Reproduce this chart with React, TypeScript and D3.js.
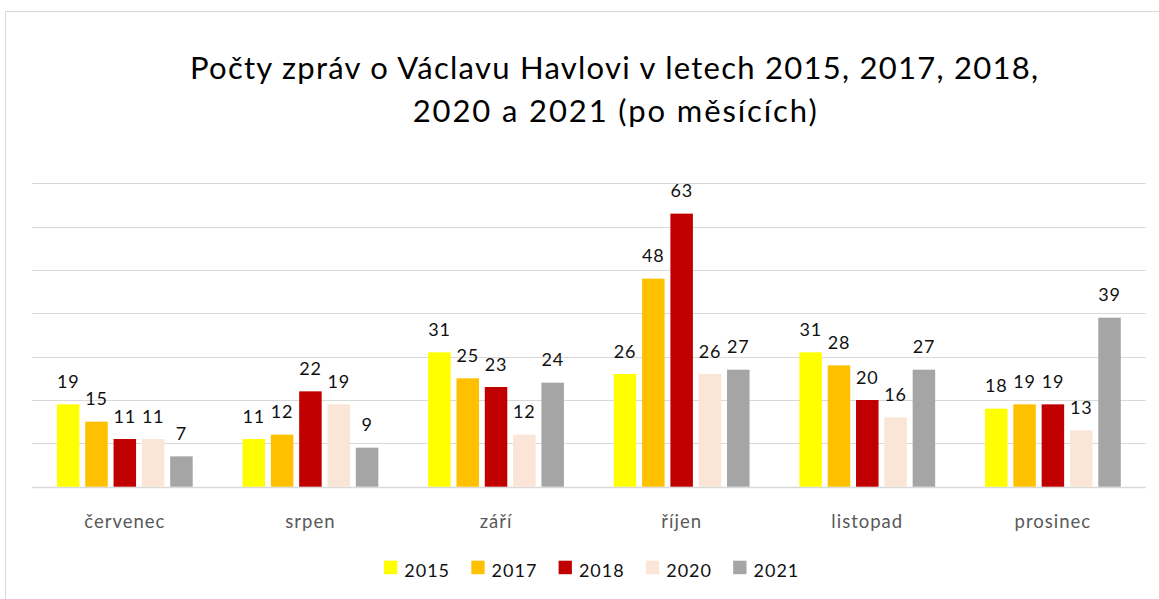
import React from "react";
import * as d3 from "d3";

const categories = ["červenec", "srpen", "září", "říjen", "listopad", "prosinec"];
const years = ["2015", "2017", "2018", "2020", "2021"];
const values2015 = [19, 11, 31, 26, 31, 18];
const values2017 = [15, 12, 25, 48, 28, 19];
const values2018 = [11, 22, 23, 63, 20, 19];
const values2020 = [11, 19, 12, 26, 16, 13];
const values2021 = [7, 9, 24, 27, 27, 39];
const yTicks = [0, 10, 20, 30, 40, 50, 60, 70];
const colors = ["#FFFF00", "#FFC000", "#C00000", "#FBE5D6", "#A5A5A5"];
const titleLines = ["Počty zpráv o Václavu Havlovi v letech 2015, 2017, 2018,", "2020 a 2021 (po měsících)"];

const seriesValues = [values2015, values2017, values2018, values2020, values2021];

const W = 1159;
const H = 599;
const FONT = "Lato, 'Open Sans', sans-serif";

export default function App() {
  const x0 = d3.scaleBand<string>().domain(categories).range([32, 1145.7]).paddingInner(0).paddingOuter(0);
  const x1 = d3
    .scaleBand<string>()
    .domain(years)
    .range([0, x0.bandwidth()])
    .paddingInner(0.205)
    .paddingOuter(0.88);
  const y = d3.scaleLinear().domain([0, 70]).range([486.7, 183.3]);

  return (
    <svg
      width={W}
      height={H}
      style={{ position: "absolute", left: 0, top: 0, display: "block", background: "#fff" }}
      fontFamily={FONT}
    >
      <rect x={0} y={0} width={W} height={H} fill="#fff" />
      {/* chart border */}
      <line x1={5.5} y1={11.5} x2={W} y2={11.5} stroke="#D9D9D9" strokeWidth={1} />
      <line x1={5.5} y1={11.5} x2={5.5} y2={H} stroke="#D9D9D9" strokeWidth={1} />

      {/* title */}
      <text x={614} y={79.3} textAnchor="middle" fontSize={31} fill="#000" textLength={848} lengthAdjust="spacing">
        {titleLines[0]}
      </text>
      <text x={614.7} y={122.3} textAnchor="middle" fontSize={31} fill="#000" textLength={404} lengthAdjust="spacing">
        {titleLines[1]}
      </text>

      {/* gridlines */}
      {yTicks.map((t) => (
        <line
          key={t}
          x1={32}
          x2={1145.7}
          y1={Math.round(y(t)) + 0.5}
          y2={Math.round(y(t)) + 0.5}
          stroke="#D9D9D9"
          strokeWidth={t === 0 ? 1.5 : 1.2}
        />
      ))}

      {/* bars */}
      {categories.map((c, ci) => (
        <g key={c} transform={`translate(${x0(c)},0)`}>
          {years.map((yr, si) => {
            const v = seriesValues[si][ci];
            const bx = x1(yr) as number;
            return (
              <g key={yr}>
                <rect x={bx} y={y(v)} width={x1.bandwidth()} height={y(0) - y(v)} fill={colors[si]} />
                <text
                  x={bx + x1.bandwidth() / 2}
                  y={y(v) - 16.5}
                  textAnchor="middle"
                  fontSize={18}
                  letterSpacing={0.8}
                  fill="#111"
                >
                  {v}
                </text>
              </g>
            );
          })}
        </g>
      ))}

      {/* category labels */}
      {categories.map((c) => (
        <text
          key={c}
          x={(x0(c) as number) + x0.bandwidth() / 2}
          y={528}
          textAnchor="middle"
          fontSize={18.5}
          letterSpacing={1}
          fill="#595959"
        >
          {c}
        </text>
      ))}

      {/* legend */}
      {years.map((yr, i) => {
        const lx = 384 + i * 87.3;
        return (
          <g key={yr}>
            <rect x={lx} y={560.7} width={13.3} height={13.5} fill={colors[i]} />
            <text x={lx + 20.3} y={577} fontSize={18} letterSpacing={1} fill="#111">
              {yr}
            </text>
          </g>
        );
      })}
    </svg>
  );
}
